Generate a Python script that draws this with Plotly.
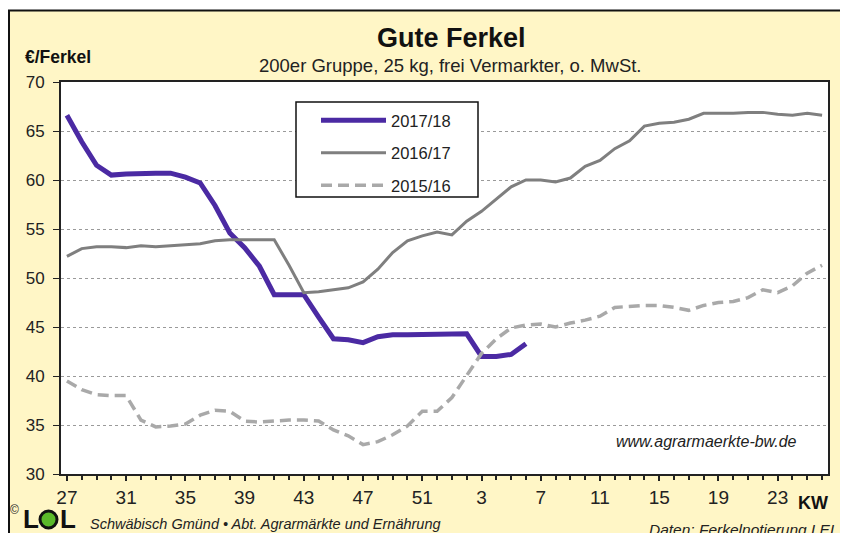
import plotly.graph_objects as go

# ---- data ----
weeks = [27, 28, 29, 30, 31, 32, 33, 34, 35, 36, 37, 38, 39, 40, 41, 42, 43, 44, 45, 46,
         47, 48, 49, 50, 51, 52, 1, 2, 3, 4, 5, 6, 7, 8, 9, 10, 11, 12, 13, 14, 15, 16,
         17, 18, 19, 20, 21, 22, 23, 24, 25, 26]

price_2017_18 = [66.6, 63.9, 61.5, 60.5, 60.6, 60.7, 60.7, 60.7, 60.3, 59.7,
                 57.4, 54.6, 53.1, 51.2, 48.3, 48.3, 48.3, 46.0, 43.8, 43.7,
                 43.4, 44.0, 44.2, 44.2, 44.2, 44.2, 44.3, 44.3, 42.0, 42.0,
                 42.2, 43.3]

price_2016_17 = [52.2, 53.0, 53.2, 53.2, 53.1, 53.3, 53.2, 53.3, 53.4, 53.5,
                 53.8, 53.9, 53.9, 53.9, 53.9, 51.3, 48.5, 48.6, 48.8, 49.0,
                 49.6, 50.9, 52.6, 53.8, 54.3, 54.7, 54.4, 55.8, 56.8, 58.1,
                 59.3, 60.0, 60.0, 59.8, 60.2, 61.4, 62.0, 63.2, 64.0, 65.5,
                 65.8, 65.9, 66.2, 66.8, 66.8, 66.8, 66.9, 66.9, 66.7, 66.6,
                 66.8, 66.6]

price_2015_16 = [39.5, 38.6, 38.1, 38.0, 38.0, 35.5, 34.8, 34.9, 35.1, 36.0,
                 36.5, 36.4, 35.4, 35.3, 35.4, 35.5, 35.5, 35.4, 34.5, 33.9,
                 33.0, 33.3, 34.0, 34.9, 36.4, 36.4, 37.8, 40.0, 42.3, 43.8,
                 44.9, 45.2, 45.3, 45.0, 45.4, 45.7, 46.1, 47.0, 47.1, 47.2,
                 47.2, 47.0, 46.7, 47.2, 47.5, 47.6, 48.0, 48.8, 48.5, 49.2,
                 50.5, 51.3]

tick_labels = ["27", "31", "35", "39", "43", "47", "51", "3", "7", "11", "15", "19", "23"]
y_ticks = [30, 35, 40, 45, 50, 55, 60, 65, 70]

series_names = ["2017/18", "2016/17", "2015/16"]

# ---- layout helpers (reference pixel coords -> paper coords; page has 8px body margin) ----
OFF = 8
W, H = 840, 525
ML, MR, MT, MB = 53, 20, 74, 59
PW, PH = W - ML - MR, H - MT - MB


def px(x):
    return (x - OFF - ML) / PW


def py(y):
    return (H - MB - (y - OFF)) / PH


pos = list(range(len(weeks)))
tickvals = [weeks.index(int(t)) for t in tick_labels]

FONT = "Liberation Sans, Arial, sans-serif"
CREAM = "#FFF6C6"

fig = go.Figure()
fig.add_trace(go.Scatter(x=pos[:len(price_2017_18)], y=price_2017_18, mode="lines",
                         name=series_names[0], legendgroup="a",
                         line=dict(color="#4B2AA3", width=5)))
fig.add_trace(go.Scatter(x=pos[:len(price_2016_17)], y=price_2016_17, mode="lines",
                         name=series_names[1], legendgroup="b",
                         line=dict(color="#7F7F7F", width=3)))
fig.add_trace(go.Scatter(x=pos[:len(price_2015_16)], y=price_2015_16, mode="lines",
                         name=series_names[2], legendgroup="c",
                         line=dict(color="#A9A9A9", width=3.5, dash="11px,6px")))

fig.update_layout(
    width=W, height=H,
    margin=dict(l=ML, r=MR, t=MT, b=MB),
    paper_bgcolor=CREAM, plot_bgcolor="white",
    font=dict(family=FONT, color="#222"),
    showlegend=True,
    legend=dict(x=px(316), y=py(103), xanchor="left", yanchor="top",
                bgcolor="rgba(0,0,0,0)", borderwidth=0,
                font=dict(size=16.5, family=FONT, color="#222"),
                tracegroupgap=8, itemwidth=65),
    xaxis=dict(range=[-0.4, 51.4], tickmode="array", tickvals=tickvals, ticktext=tick_labels,
               ticks="outside", ticklen=5, tickcolor="#222", tickwidth=1.5,
               minor=dict(dtick=1, tick0=0, ticks="outside", ticklen=4, tickcolor="#222",
                          showgrid=False),
               showgrid=False, zeroline=False,
               showline=True, linecolor="#222", linewidth=2, mirror=True,
               tickfont=dict(size=19, family=FONT, color="#222"), ticklabelstandoff=0),
    yaxis=dict(range=[30, 70], tickmode="array", tickvals=y_ticks,
               ticks="outside", ticklen=6, tickcolor="#222",
               showgrid=True, gridcolor="#9a9a9a", griddash="dot", gridwidth=1,
               zeroline=False,
               showline=True, linecolor="#222", linewidth=2, mirror=True,
               tickfont=dict(size=17, family=FONT, color="#222"), ticklabelstandoff=5),
)

shapes = [
    # white strip right of the outer frame
    dict(type="rect", xref="paper", yref="paper", x0=px(843), x1=px(860), y0=py(560), y1=py(0),
         fillcolor="white", line=dict(width=0), layer="above"),
    # white strip above the outer frame
    dict(type="rect", xref="paper", yref="paper", x0=px(0), x1=px(860), y0=py(10), y1=py(0),
         fillcolor="white", line=dict(width=0), layer="above"),
    # outer black frame
    dict(type="rect", xref="paper", yref="paper", x0=px(9), x1=px(843), y0=py(560), y1=py(10.5),
         fillcolor="rgba(0,0,0,0)", line=dict(color="#111", width=2), layer="above"),
    # legend box
    dict(type="rect", xref="paper", yref="paper", x0=px(296), x1=px(478), y0=py(197), y1=py(102),
         fillcolor="white", line=dict(color="#111", width=1.5), layer="above"),
    # LEL logo green ball
    dict(type="circle", xref="paper", yref="paper", x0=px(40), x1=px(57), y0=py(528), y1=py(511),
         fillcolor="#5BB92A", line=dict(color="#111", width=3), layer="above"),
]
fig.update_layout(shapes=shapes)

ann = [
    dict(text="<b>Gute Ferkel</b>", x=px(452), y=py(38), font=dict(size=27, color="#111")),
    dict(text="200er Gruppe, 25 kg, frei Vermarkter, o. MwSt.", x=px(450), y=py(66),
         font=dict(size=18.5, color="#222")),
    dict(text="<b>€/Ferkel</b>", x=px(23), y=py(57), xanchor="left", font=dict(size=17.5, color="#111")),
    dict(text="<b>KW</b>", x=px(813), y=py(503), font=dict(size=18, color="#111")),
    dict(text="<i>www.agrarmaerkte-bw.de</i>", x=px(706), y=py(441), font=dict(size=16, color="#222")),
    dict(text="©", x=px(14), y=py(510), font=dict(size=12, color="#222")),
    dict(text="<b>L</b>", x=px(31), y=py(519), font=dict(size=26, color="#111")),
    dict(text="<b>L</b>", x=px(68), y=py(519), font=dict(size=26, color="#111")),
    dict(text="<i>Schwäbisch Gmünd • Abt. Agrarmärkte und Ernährung</i>", x=px(88), y=py(524),
         xanchor="left", font=dict(size=14.5, color="#222")),
    dict(text="<i>Daten: Ferkelnotierung LEL</i>", x=px(841), y=py(529), xanchor="right",
         font=dict(size=15.5, color="#222")),
]
for a in ann:
    a.setdefault("xanchor", "center")
    a.update(xref="paper", yref="paper", yanchor="middle", showarrow=False)
    fig.add_annotation(**a)

fig.write_html("out.html")
